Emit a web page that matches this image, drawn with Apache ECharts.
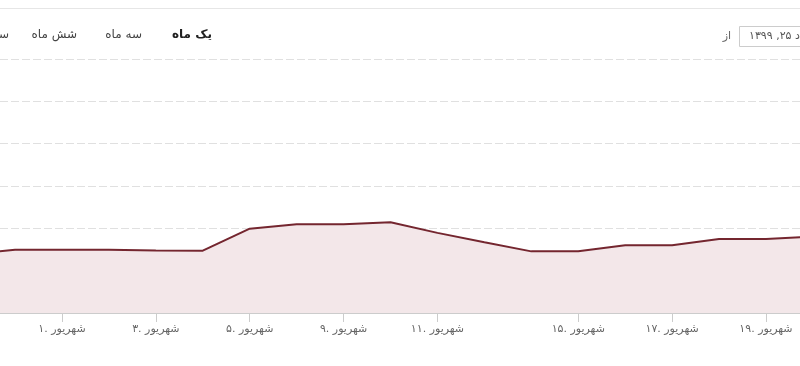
<!DOCTYPE html>
<html>
<head>
<meta charset="utf-8">
<script src="https://cdn.jsdelivr.net/npm/echarts@6/dist/echarts.min.js"></script>
<style>
html,body{margin:0;padding:0;background:#fff;}
#chart{width:800px;height:366px;}
</style>
</head>
<body>
<div id="chart"></div>
<script>
// ordinal (trading-day) positions and values
const positions = [-1, 0, 1, 2, 3, 4, 5, 6, 7, 8, 9, 10, 11, 12, 13, 14, 15, 16, 17];
const values = [1385, 1496, 1496, 1496, 1479, 1472, 1993, 2095, 2095, 2142, 1893, 1669, 1456, 1456, 1598, 1598, 1747, 1747, 1804];
const tickPositions = [1, 3, 5, 7, 9, 12, 14, 16];
const tickLabels = ['۱. شهریور', '۳. شهریور', '۵. شهریور', '۹. شهریور', '۱۱. شهریور', '۱۵. شهریور', '۱۷. شهریور', '۱۹. شهریور'];
const rangeButtons = ['یک ماه', 'سه ماه', 'شش ماه', 'سال'];
const fromLabel = 'از';
const fromDate = '۱۳۹۹ ,۲۵ مرداد';

const seriesData = positions.map((p, i) => [p, values[i]]);
const FONT = '"DejaVu Sans", "Noto Sans", sans-serif';

const chart = echarts.init(document.getElementById('chart'), null, {renderer: 'canvas'});
chart.setOption({
  animation: false,
  grid: {left: 0, right: 0, top: 59, bottom: 53, containLabel: false},
  xAxis: {
    type: 'value',
    min: -0.321,
    max: 16.725,
    splitLine: {show: false},
    axisLine: {show: true, onZero: false, lineStyle: {color: '#cccccc', width: 1}},
    axisTick: {show: true, customValues: tickPositions, length: 9, lineStyle: {color: '#cccccc'}},
    axisLabel: {
      show: true,
      customValues: tickPositions,
      formatter: function (v) {
        const k = tickPositions.indexOf(Math.round(v));
        return k >= 0 ? tickLabels[k] : '';
      },
      color: '#666',
      fontSize: 11,
      fontFamily: FONT,
      margin: 11
    }
  },
  yAxis: {
    type: 'value',
    min: 0,
    max: 6000,
    interval: 1000,
    axisLine: {show: false},
    axisTick: {show: false},
    axisLabel: {show: false},
    splitLine: {show: true, lineStyle: {color: '#e0e0e0', type: [8, 3], width: 1}}
  },
  series: [{
    type: 'line',
    data: seriesData,
    symbol: 'none',
    clip: true,
    lineStyle: {color: '#74262f', width: 2},
    areaStyle: {color: '#f3e7e9', opacity: 1}
  }],
  graphic: [
    {type: 'line', shape: {x1: 0, y1: 8.5, x2: 800, y2: 8.5}, style: {stroke: '#e6e6e6', lineWidth: 1}, silent: true},
    {type: 'text', x: 212, y: 35, style: {text: rangeButtons[0], font: 'bold 12px ' + FONT, fill: '#222', align: 'right', verticalAlign: 'middle'}},
    {type: 'text', x: 142, y: 35, style: {text: rangeButtons[1], font: '12px ' + FONT, fill: '#444', align: 'right', verticalAlign: 'middle'}},
    {type: 'text', x: 77, y: 35, style: {text: rangeButtons[2], font: '12px ' + FONT, fill: '#444', align: 'right', verticalAlign: 'middle'}},
    {type: 'text', x: 9, y: 35, style: {text: rangeButtons[3], font: '12px ' + FONT, fill: '#444', align: 'right', verticalAlign: 'middle'}},
    {type: 'text', x: 731, y: 36, style: {text: fromLabel, font: '11px ' + FONT, fill: '#666', align: 'right', verticalAlign: 'middle'}},
    {type: 'rect', shape: {x: 739.5, y: 26.5, width: 90, height: 20}, style: {fill: '#fff', stroke: '#cccccc', lineWidth: 1}},
    {type: 'text', x: 749, y: 36.5, style: {text: fromDate, font: '11px ' + FONT, fill: '#555', align: 'left', verticalAlign: 'middle'}}
  ]
});
</script>
</body>
</html>
